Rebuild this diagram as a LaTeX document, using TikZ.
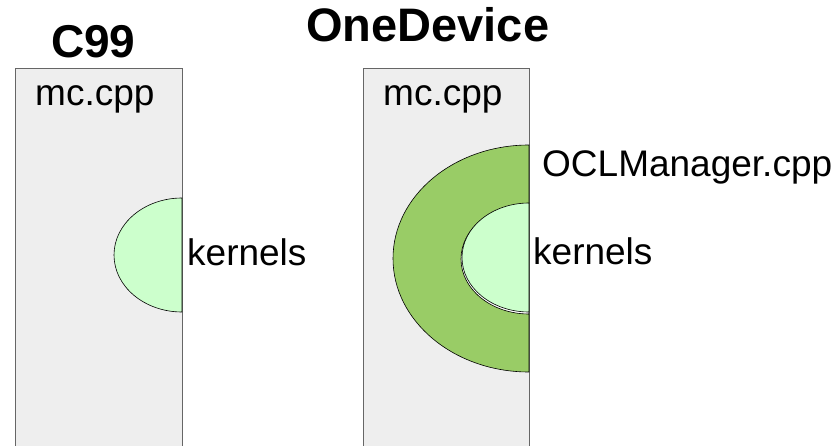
\documentclass[tikz,border=0pt]{standalone}
\usepackage{fontspec}
\setmainfont{Liberation Sans}
\definecolor{boxfill}{HTML}{EEEEEE}
\definecolor{boxline}{HTML}{666666}
\definecolor{kernfill}{HTML}{CCFFCC}
\definecolor{oclfill}{HTML}{99CC66}
\begin{document}
\begin{tikzpicture}[x=1pt,y=-1pt,
  filebox/.style={fill=boxfill,draw=boxline,line width=1pt},
  kernshape/.style={fill=kernfill,draw=black,line width=0.6pt},
  oclshape/.style={fill=oclfill,draw=black,line width=0.6pt},
  lbl/.style={inner sep=0pt,anchor=base west,font=\fontsize{37}{40}\selectfont},
  ttl/.style={inner sep=0pt,anchor=base west,font=\fontsize{46}{50}\selectfont\bfseries}]
\useasboundingbox (0,0) rectangle (834,446);
\begin{scope}
\clip (0,0) rectangle (834,446);
% left file box
\draw[filebox] (15,460) -- (15,69) -- (182,69) -- (182,460);
% right file box
\draw[filebox] (363,460) -- (363,69) -- (529,69) -- (529,460);
\end{scope}
% left kernels half ellipse
\draw[kernshape] (182,198) arc[start angle=270,end angle=90,x radius=68,y radius=57] -- cycle;
% OCLManager ring
\fill[white] (529,204) arc[start angle=270,end angle=90,x radius=68,y radius=55] -- cycle;
\draw[oclshape,even odd rule] (529,145) arc[start angle=270,end angle=90,x radius=136,y radius=113.5] -- cycle
  (529,204) arc[start angle=270,end angle=90,x radius=68,y radius=55] -- cycle;
% right kernels
\draw[kernshape] (529,203) arc[start angle=270,end angle=90,x radius=67,y radius=54.5] -- cycle;
% texts
\node[ttl] (c99) at (51,58) {C99};
\node[ttl,font=\fontsize{47}{50}\selectfont\bfseries] (onedev) at (306,42) {OneDevice};
\node[lbl] (mcl) at (35,106) {mc.cpp};
\node[lbl] (mcr) at (383,106) {mc.cpp};
\node[lbl] (kl) at (187,265) {kernels};
\node[lbl] (kr) at (533,264) {kernels};
\node[lbl] (ocl) at (542,177) {OCLManager.cpp};
\end{tikzpicture}
\end{document}
